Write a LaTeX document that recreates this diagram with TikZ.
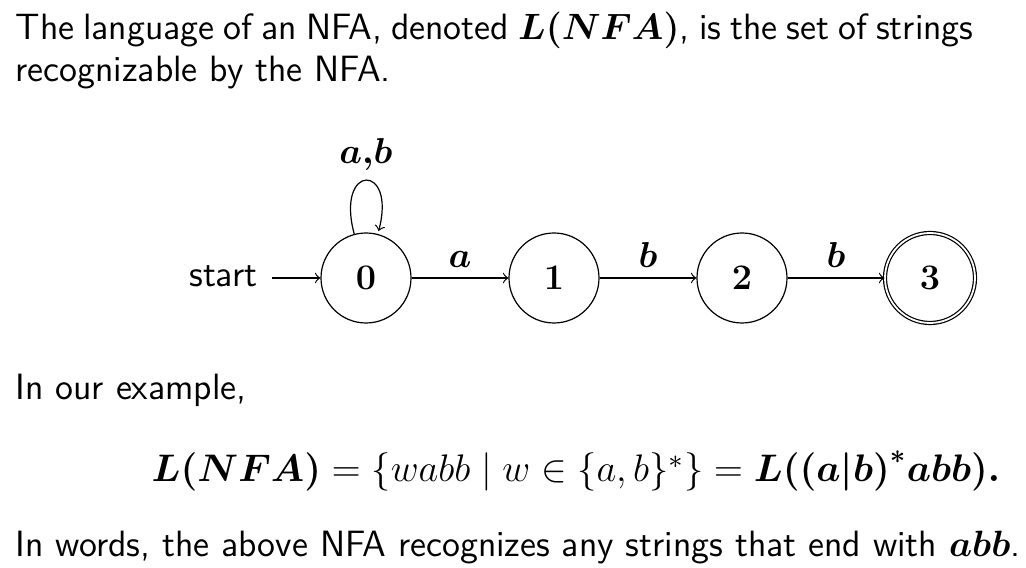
\RequirePackage{fix-cm}
\documentclass[tikz,border=0pt]{standalone}
\usepackage{amsmath,bm}
\usepackage{fontspec}
\usetikzlibrary{automata,positioning}
\begin{document}
\begin{tikzpicture}[x=0.33333pt,y=-0.33333pt,
  txt/.style={anchor=base west,inner sep=0pt,font=\fontsize{12.2}{14.5}\sffamily},
  state/.style={circle,draw,minimum size=30pt,inner sep=0pt,font=\fontsize{12}{14}\selectfont},
  acc/.style={double,double distance=0.6pt},
  lbl/.style={font=\fontsize{12}{14}\selectfont},
  every edge/.style={draw,->},
  >=to]
\useasboundingbox (0,0) rectangle (1026,568);
\node[txt] (l1) at (15,40) {\makebox[319.3pt][s]{The language of an NFA, denoted $\bm{L(NFA)}$, is the set of strings}};
\node[txt] (l2) at (15,82) {recognizable by the NFA.};
\node[txt] (l3) at (15,400) {In our example,};
\node[txt,font=\fontsize{12.8}{16}\selectfont] (eq) at (151,482) {$\bm{L(NFA)} = \{wabb \mid w \in \{a,b\}^*\} = \bm{L((a|b)^*abb).}$};
\node[txt] (l4) at (15,557) {In words, the above NFA recognizes any strings that end with $\bm{abb}$.};

\node[state] (q0) at (366,278) {$\bm{0}$};
\node[state] (q1) at (554,278) {$\bm{1}$};
\node[state] (q2) at (742,278) {$\bm{2}$};
\node[state,acc] (q3) at (930,278) {$\bm{3}$};
\node[anchor=east,inner ysep=0pt,inner xsep=4.7pt,text height=6pt,text depth=0pt,font=\fontsize{12.2}{14}\sffamily] (st) at (272,278) {start};
\draw[->] (st) -- (q0);
\path (q0) edge[loop above] node[lbl,above] {$\bm{a{,}b}$} (q0)
      (q0) edge node[lbl,above] {$\bm{a}$} (q1)
      (q1) edge node[lbl,above] {$\bm{b}$} (q2)
      (q2) edge node[lbl,above] {$\bm{b}$} (q3);
\end{tikzpicture}
\end{document}
